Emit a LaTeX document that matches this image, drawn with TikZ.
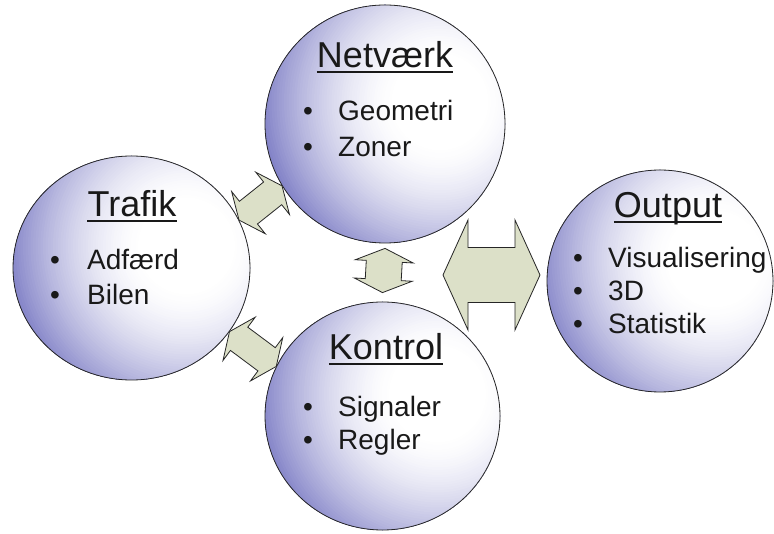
\documentclass[tikz,border=0pt]{standalone}
\usepackage{fontspec}
\setmainfont{Liberation Sans}
\usetikzlibrary{shapes.geometric,calc}
\definecolor{arrfillc}{RGB}{220,224,200}
\definecolor{lavC}{RGB}{130,130,199}
\definecolor{txt}{RGB}{25,25,25}
% double block arrow between two tips: #1,#2 tips; #3 head length; #4 half head width; #5 half shaft width
\newcommand{\blockarrow}[5]{%
  \path[blockarr] (#1)
  -- ($(#1)!#3!(#2)!#4!90:(#2)$)
  -- ($(#1)!#3!(#2)!#5!90:(#2)$)
  -- ($(#2)!#3!(#1)!#5!-90:(#1)$)
  -- ($(#2)!#3!(#1)!#4!-90:(#1)$)
  -- (#2)
  -- ($(#2)!#3!(#1)!#4!90:(#1)$)
  -- ($(#2)!#3!(#1)!#5!90:(#1)$)
  -- ($(#1)!#3!(#2)!#5!-90:(#2)$)
  -- ($(#1)!#3!(#2)!#4!-90:(#2)$)
  -- cycle;}
\newcommand{\bubblefill}{%
  \fill[white] (path picture bounding box.south west) rectangle (path picture bounding box.north east);
  \foreach \radv in {186,183.5,...,45}{%
    \pgfmathsetmacro\mixv{min(100,100*pow(max((\radv-45)/135,0.001),1.6))}%
    \fill[lavC!\mixv!white] ([shift={(55pt,22pt)}]path picture bounding box.center) circle (\radv pt);
  }}
\begin{document}
\begin{tikzpicture}[x=1pt,y=1pt,
  bubblenode/.style={ellipse, draw=black!85, line width=0.8pt, inner sep=0pt,
    path picture={\bubblefill}},
  ttl/.style={font=\fontsize{36}{43}\selectfont, text=txt, inner sep=0pt, anchor=base},
  itm/.style={font=\fontsize{28}{34}\selectfont, text=txt, inner sep=0pt, anchor=base west},
  bul/.style={font=\fontsize{28}{34}\selectfont, text=txt, inner sep=0pt, anchor=base},
  ul/.style={line width=1.8pt, draw=txt},
  blockarr/.style={fill=arrfillc, draw=black!85, line width=0.8pt, line join=miter}]
\useasboundingbox (0,0) rectangle (774,533);
\fill[white] (0,0) rectangle (774,533);
% circles
\node[bubblenode, minimum width=240pt, minimum height=238pt] (net) at (385,409) {};
\node[bubblenode, minimum width=237pt, minimum height=224pt] (traf) at (131.5,265) {};
\node[bubblenode, minimum width=235pt, minimum height=228pt] (kon) at (382.5,117) {};
\node[bubblenode, minimum width=226pt, minimum height=222pt] (out) at (660,252) {};
% arrows
\blockarrow{traf.24}{net.211}{12pt}{27pt}{14.5pt}
\blockarrow{traf.-33}{kon.155}{12pt}{27pt}{14.5pt}
\coordinate (a3t) at ([yshift=-5pt]net.south);
\coordinate (a3b) at ([yshift=9pt]kon.north);
\blockarrow{a3t}{a3b}{13pt}{29pt}{18pt}
\coordinate (a4l) at (443,258);
\coordinate (a4r) at (540,258);
\blockarrow{a4l}{a4r}{25pt}{55pt}{27.5pt}
% Netvaerk
\node[ttl] (netT) at (385,465) {Netværk};
\draw[ul] ([yshift=-4pt]netT.base west) -- ([yshift=-4pt]netT.base east);
\node[bul] (nb1) at (308,412) {•};
\node[itm] (n1) at (338,412) {Geometri};
\node[bul] (nb2) at (308,376) {•};
\node[itm] (n2) at (338,376) {Zoner};
% Trafik
\node[ttl] (trafT) at (132,316) {Trafik};
\draw[ul] ([yshift=-4pt]trafT.base west) -- ([yshift=-4pt]trafT.base east);
\node[bul] (tb1) at (55,263) {•};
\node[itm] (t1) at (87,263) {Adfærd};
\node[bul] (tb2) at (55,228) {•};
\node[itm] (t2) at (87,228) {Bilen};
% Kontrol
\node[ttl] (konT) at (386,173) {Kontrol};
\draw[ul] ([yshift=-4pt]konT.base west) -- ([yshift=-4pt]konT.base east);
\node[bul] (kb1) at (308,116) {•};
\node[itm] (k1) at (338,116) {Signaler};
\node[bul] (kb2) at (308,83) {•};
\node[itm] (k2) at (338,83) {Regler};
% Output
\node[ttl] (outT) at (668,315) {Output};
\draw[ul] ([yshift=-4pt]outT.base west) -- ([yshift=-4pt]outT.base east);
\node[bul] (ob1) at (578,265) {•};
\node[itm] (o1) at (608,265) {Visualisering};
\node[bul] (ob2) at (578,232) {•};
\node[itm] (o2) at (608,232) {3D};
\node[bul] (ob3) at (578,199) {•};
\node[itm] (o3) at (608,199) {Statistik};
\end{tikzpicture}
\end{document}
